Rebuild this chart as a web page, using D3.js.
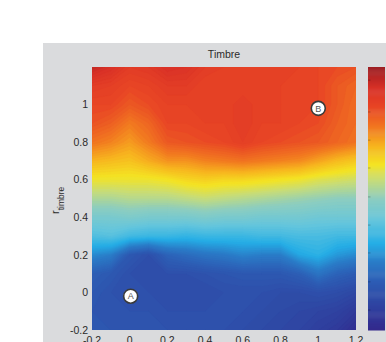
<!DOCTYPE html>
<html>
<head>
<meta charset="utf-8">
<script src="https://cdn.jsdelivr.net/npm/d3@7"></script>
<style>
  body { margin: 0; background: #fff; }
  svg { display: block; }
  text { font-family: "Liberation Sans", Arial, sans-serif; fill: #2a2a2a; }
</style>
</head>
<body>
<svg id="chart" width="386" height="342"></svg>
<script>

// grid sample positions (columns left -> right, rows top -> bottom)
const xValues = [-0.2, -0.1, 0, 0.1, 0.2, 0.3, 0.4, 0.5, 0.6, 0.7, 0.8, 0.9, 1.0, 1.1, 1.2];
const yValues = [1.2, 1.1, 1.0, 0.9, 0.8, 0.7, 0.6, 0.5, 0.4, 0.3, 0.2, 0.1, 0, -0.1, -0.2];

// colour value of the map at each sample, one row per y value
const timbreGrid = [
  [0.95, 0.92, 0.88, 0.89, 0.92, 0.91, 0.88, 0.87, 0.87, 0.86, 0.86, 0.86, 0.85, 0.84, 0.83],
  [0.88, 0.87, 0.85, 0.86, 0.88, 0.88, 0.86, 0.86, 0.86, 0.86, 0.86, 0.85, 0.85, 0.82, 0.80],
  [0.85, 0.85, 0.82, 0.84, 0.86, 0.86, 0.86, 0.86, 0.88, 0.86, 0.86, 0.85, 0.85, 0.82, 0.79],
  [0.83, 0.81, 0.77, 0.80, 0.85, 0.85, 0.86, 0.86, 0.88, 0.86, 0.86, 0.85, 0.84, 0.81, 0.79],
  [0.78, 0.76, 0.73, 0.77, 0.82, 0.83, 0.84, 0.85, 0.87, 0.85, 0.84, 0.83, 0.82, 0.80, 0.78],
  [0.70, 0.69, 0.68, 0.71, 0.74, 0.74, 0.76, 0.77, 0.78, 0.77, 0.76, 0.75, 0.72, 0.69, 0.67],
  [0.62, 0.62, 0.62, 0.62, 0.63, 0.65, 0.66, 0.65, 0.65, 0.64, 0.63, 0.62, 0.60, 0.59, 0.58],
  [0.54, 0.54, 0.55, 0.55, 0.55, 0.56, 0.57, 0.56, 0.55, 0.54, 0.53, 0.52, 0.51, 0.50, 0.50],
  [0.46, 0.46, 0.47, 0.46, 0.46, 0.46, 0.47, 0.46, 0.46, 0.45, 0.45, 0.45, 0.44, 0.44, 0.44],
  [0.39, 0.40, 0.37, 0.36, 0.36, 0.35, 0.36, 0.36, 0.36, 0.37, 0.37, 0.38, 0.38, 0.37, 0.37],
  [0.28, 0.26, 0.17, 0.14, 0.20, 0.22, 0.24, 0.25, 0.27, 0.26, 0.26, 0.32, 0.34, 0.30, 0.28],
  [0.19, 0.17, 0.14, 0.13, 0.14, 0.14, 0.15, 0.16, 0.17, 0.17, 0.17, 0.19, 0.24, 0.20, 0.18],
  [0.17, 0.15, 0.14, 0.14, 0.13, 0.13, 0.13, 0.14, 0.14, 0.14, 0.13, 0.13, 0.14, 0.13, 0.11],
  [0.16, 0.15, 0.15, 0.15, 0.14, 0.14, 0.14, 0.14, 0.14, 0.13, 0.12, 0.11, 0.10, 0.09, 0.06],
  [0.16, 0.16, 0.16, 0.15, 0.15, 0.15, 0.15, 0.14, 0.13, 0.12, 0.11, 0.10, 0.08, 0.06, 0.02]
];

const xTicks = [-0.2, 0, 0.2, 0.4, 0.6, 0.8, 1, 1.2];
const yTicks = [-0.2, 0, 0.2, 0.4, 0.6, 0.8, 1];

const markerLabels = ['A', 'B'];
const markerX = [0.005, 1.0];
const markerY = [-0.02, 0.98];

// colour map (jet-like, as on the colour bar)
const cmapStops = [0, 0.08, 0.18, 0.26, 0.33, 0.42, 0.50, 0.57, 0.63, 0.70, 0.77, 0.85, 0.92, 1];
const cmapColors = ['#33288c', '#2f3f9e', '#2d5bb3', '#2a7cc8', '#25aee6', '#66c6dc', '#8ccdc0',
  '#c6dc7a', '#f4e423', '#f7b51f', '#f27a20', '#e84525', '#d93127', '#9c1d22'];
const cbTicks = [0.076, 0.183, 0.293, 0.399, 0.506, 0.616, 0.722, 0.829, 0.95];

const svg = d3.select('#chart');

const plot = {left: 92, right: 356, top: 67, bottom: 330};

const x = d3.scaleLinear().domain([-0.2, 1.2]).range([plot.left, plot.right]);
const y = d3.scaleLinear().domain([-0.2, 1.2]).range([plot.bottom, plot.top]);
const color = d3.scaleLinear().domain(cmapStops).range(cmapColors).clamp(true);

// gray figure panel
svg.append('rect')
  .attr('x', 43).attr('y', 43)
  .attr('width', 343).attr('height', 299)
  .attr('fill', '#dadbdd');

svg.append('defs').append('clipPath').attr('id', 'plotClip')
  .append('rect')
  .attr('x', plot.left).attr('y', plot.top)
  .attr('width', plot.right - plot.left).attr('height', plot.bottom - plot.top);

// filled contours of the grid
const nx = xValues.length, ny = yValues.length;
const flat = [].concat(...timbreGrid);
const gridX = d3.scaleLinear().domain([0.5, nx - 0.5]).range([x(xValues[0]), x(xValues[nx - 1])]);
const gridY = d3.scaleLinear().domain([0.5, ny - 0.5]).range([y(yValues[0]), y(yValues[ny - 1])]);

const levels = d3.range(0, 1.0001, 0.01);
const contours = d3.contours().size([nx, ny]).thresholds(levels)(flat);

const proj = d3.geoTransform({
  point: function(px, py) { this.stream.point(gridX(px), gridY(py)); }
});
const path = d3.geoPath(proj);

svg.append('g')
  .attr('clip-path', 'url(#plotClip)')
  .selectAll('path')
  .data(contours)
  .join('path')
  .attr('d', path)
  .attr('fill', d => color(d.value + 0.005))
  .attr('stroke', d => color(d.value + 0.005))
  .attr('stroke-width', 0.3);

// title
svg.append('text')
  .attr('x', (plot.left + plot.right) / 2).attr('y', 58)
  .attr('text-anchor', 'middle')
  .style('font-size', '10.5px')
  .text('Timbre');

// tick labels
svg.append('g').selectAll('text')
  .data(yTicks)
  .join('text')
  .attr('x', plot.left - 4)
  .attr('y', d => y(d))
  .attr('dy', '0.35em')
  .attr('text-anchor', 'end')
  .style('font-size', '10.5px')
  .text(d => String(d));

svg.append('g').selectAll('text')
  .data(xTicks)
  .join('text')
  .attr('x', d => x(d))
  .attr('y', 344)
  .attr('text-anchor', 'middle')
  .style('font-size', '10.5px')
  .text(d => String(d));

// y axis label r_timbre
const ylab = svg.append('text')
  .attr('transform', 'translate(58.5,214) rotate(-90)')
  .attr('text-anchor', 'start');
ylab.append('tspan').style('font-size', '11px').text('r');
ylab.append('tspan').attr('dy', 5).style('font-size', '8.5px').text('timbre');

// markers A and B
const marks = svg.append('g').selectAll('g')
  .data(markerLabels)
  .join('g')
  .attr('transform', (d, i) => `translate(${x(markerX[i])},${y(markerY[i])})`);
marks.append('circle')
  .attr('r', 7)
  .attr('fill', '#fff')
  .attr('stroke', '#3a3a3a')
  .attr('stroke-width', 1.6);
marks.append('text')
  .attr('text-anchor', 'middle')
  .attr('dy', '0.36em')
  .style('font-size', '9px')
  .style('fill', '#555')
  .text(d => d);

// colour bar
const cb = d3.scaleLinear().domain([0, 1]).range([plot.bottom, plot.top]);
const cbSteps = d3.range(0, 1, 0.004);
svg.append('g').selectAll('rect')
  .data(cbSteps)
  .join('rect')
  .attr('x', 368)
  .attr('width', 17)
  .attr('y', d => cb(d + 0.004))
  .attr('height', d => cb(d) - cb(d + 0.004) + 0.5)
  .attr('fill', d => color(d + 0.002));

svg.append('g').selectAll('line')
  .data(cbTicks)
  .join('line')
  .attr('x1', 368).attr('x2', 370.5)
  .attr('y1', d => cb(d)).attr('y2', d => cb(d))
  .attr('stroke', '#000').attr('stroke-opacity', 0.25);

</script>
</body>
</html>
